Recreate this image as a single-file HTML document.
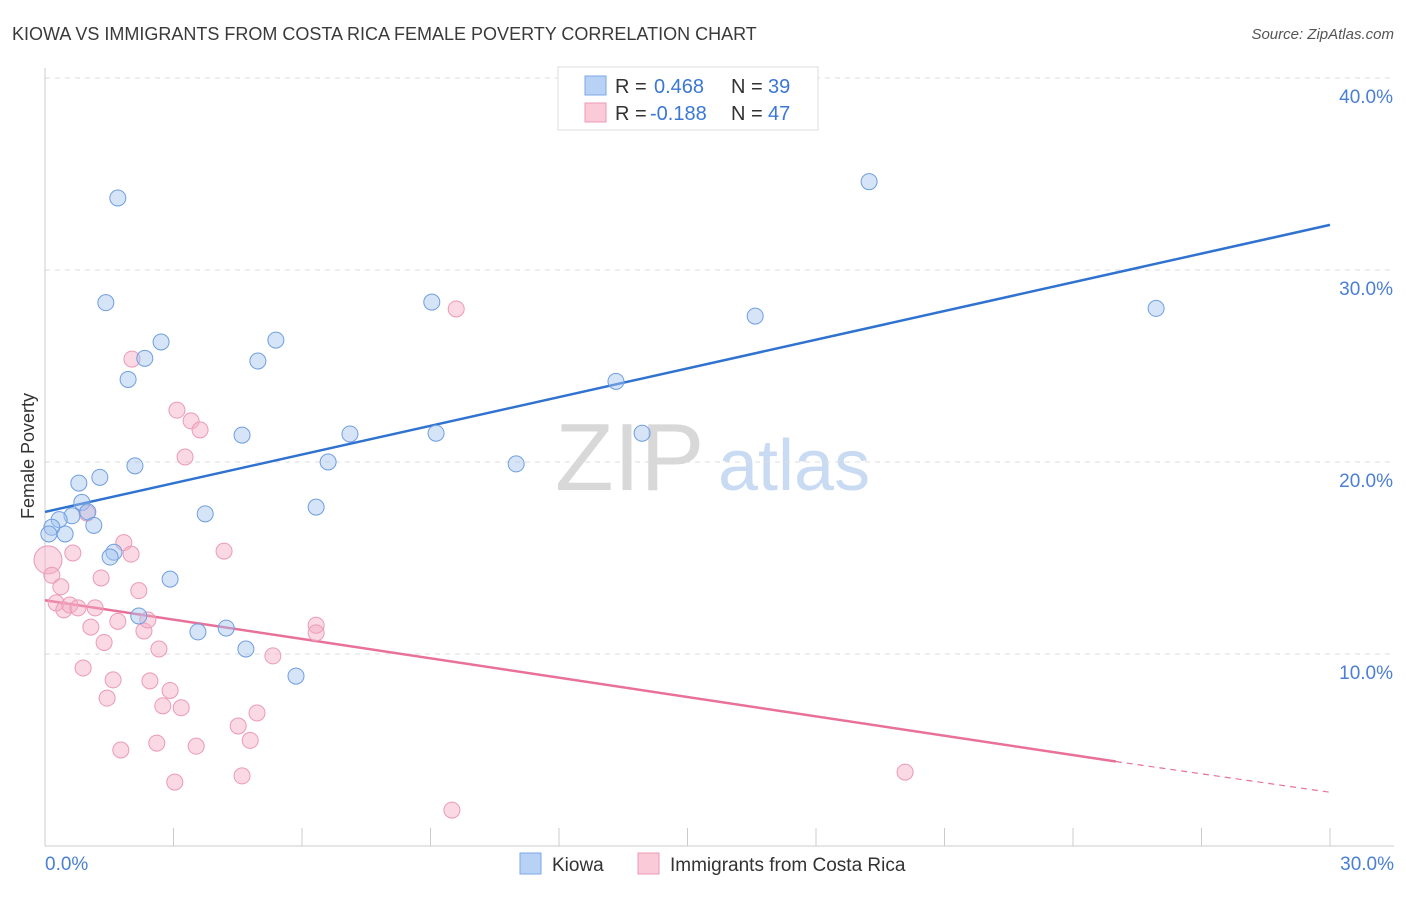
<!DOCTYPE html>
<html><head><meta charset="utf-8"><style>
body{margin:0;background:#fff;font-family:"Liberation Sans",sans-serif}
svg text{font-family:"Liberation Sans",sans-serif}
</style></head><body>
<svg id="chart" width="1406" height="892" xmlns="http://www.w3.org/2000/svg">
<text x="12" y="40" font-size="18" fill="#3a3a3a">KIOWA VS IMMIGRANTS FROM COSTA RICA FEMALE POVERTY CORRELATION CHART</text>
<text x="1394" y="39" font-size="15" fill="#555" text-anchor="end" font-style="italic">Source: ZipAtlas.com</text>
<g>
<text x="555" y="490" font-size="96" fill="#d8d8d8" font-family="Liberation Serif">ZIP</text>
<text x="718" y="490" font-size="72" fill="#c9daf3">atlas</text>
</g>
<g id="grid"></g>
<g id="axes"></g>
<text transform="translate(34,456) rotate(-90)" font-size="18" fill="#333" text-anchor="middle">Female Poverty</text>
<g id="lines"></g>
<g id="points"></g>
<g>
<rect x="558" y="67" width="260" height="63" fill="#fff" stroke="#ddd"/>
<rect x="585" y="76" width="21" height="19" fill="#b8d2f5" stroke="#7aa8e6"/>
<text x="615" y="93" font-size="20" fill="#333">R = </text><text x="654" y="93" font-size="20" fill="#3a78d4">0.468</text>
<text x="731" y="93" font-size="20" fill="#333">N = </text><text x="768" y="93" font-size="20" fill="#3a78d4">39</text>
<rect x="585" y="103" width="21" height="19" fill="#fbcad8" stroke="#ec9ab4"/>
<text x="615" y="120" font-size="20" fill="#333">R = </text><text x="650" y="120" font-size="20" fill="#3a78d4">-0.188</text>
<text x="731" y="120" font-size="20" fill="#333">N = </text><text x="768" y="120" font-size="20" fill="#3a78d4">47</text>
</g>
<g>
<rect x="520" y="853" width="21" height="21" fill="#b8d2f5" stroke="#7aa8e6"/>
<text x="552" y="871" font-size="19" fill="#333">Kiowa</text>
<rect x="638" y="853" width="21" height="21" fill="#fbcad8" stroke="#ec9ab4"/>
<text x="670" y="871" font-size="19" fill="#333">Immigrants from Costa Rica</text>
</g>
</svg>
<script>
const yTicks=[10,20,30,40];
const yTickLabels=["10.0%","20.0%","30.0%","40.0%"];
const xTicks=[0,3,6,9,12,15,18,21,24,27,30];
const kiowaX=[1.70,1.42,2.71,2.33,1.94,5.39,4.97,4.60,2.10,1.28,0.79,0.86,1.00,0.63,0.33,0.16,0.09,0.47,1.14,3.74,6.33,6.61,7.12,9.03,9.13,11.0,13.33,13.94,16.58,19.24,25.94,1.61,1.52,2.92,2.19,3.57,4.23,4.69,5.86];
const kiowaY=[33.75,28.3,26.25,25.4,24.3,26.35,25.26,21.4,19.8,19.2,18.9,17.9,17.4,17.2,17.0,16.6,16.25,16.25,16.7,17.3,17.65,20.0,21.46,28.33,21.5,19.9,24.2,21.5,27.6,34.6,28.0,15.3,15.05,13.9,11.98,11.15,11.35,10.26,8.85];
const costaX=[0.07,0.16,0.26,0.37,0.44,0.58,0.65,0.77,0.89,0.98,1.07,1.17,1.31,1.38,1.45,1.59,1.70,1.77,1.84,2.01,2.03,2.19,2.31,2.40,2.45,2.61,2.66,2.75,2.92,3.03,3.08,3.18,3.27,3.41,3.53,3.62,4.18,4.51,4.60,4.79,4.95,5.32,6.33,6.33,9.50,9.60,20.08];
const costaY=[14.9,14.1,12.66,13.5,12.3,12.55,15.26,12.4,9.27,17.34,11.4,12.4,13.96,10.6,7.7,8.65,11.7,5.0,15.8,15.2,25.36,13.3,11.2,11.77,8.6,5.36,10.26,7.3,8.1,3.33,22.7,7.2,20.26,22.14,5.2,21.67,15.36,6.25,3.65,5.5,6.93,9.9,11.5,11.1,1.87,27.97,3.85];
const kiowaTrend=[[0,17.4],[30,32.35]];
const costaTrend=[[0,12.8],[25,4.4],[30,2.8]];
const NS="http://www.w3.org/2000/svg";
const X=v=>45+v/30*1285, Y=v=>846-v*19.2;
function mk(tag,attrs,parent){const e=document.createElementNS(NS,tag);for(const k in attrs)e.setAttribute(k,attrs[k]);parent.appendChild(e);return e;}
const grid=document.getElementById('grid'),axes=document.getElementById('axes');
yTicks.forEach((t,i)=>{
 const l=mk('line',{x1:45,x2:1394,y1:Y(t),y2:Y(t),stroke:'#ddd','stroke-dasharray':'5,5'},grid);
 
 
 const tx=mk('text',{x:1393,y:Y(t)+25,'font-size':19,fill:'#4a7fd4','text-anchor':'end'},axes);
 tx.textContent=yTickLabels[i];
 
 
});
mk('line',{x1:45,x2:45,y1:68,y2:846,stroke:'#ccc'},axes);
mk('line',{x1:45,x2:1394,y1:846,y2:846,stroke:'#ccc'},axes);
xTicks.forEach(t=>{const l=mk('line',{x1:X(t),x2:X(t),y1:828,y2:846,stroke:'#ccc'},axes);
 
 });
let t0=mk('text',{x:45,y:870,'font-size':19,fill:'#4a7fd4'},axes);t0.textContent="0.0%";


let t1=mk('text',{x:1394,y:870,'font-size':19,fill:'#4a7fd4','text-anchor':'end'},axes);t1.textContent="30.0%";


const pts=document.getElementById('points');
costaX.forEach((x,i)=>{const c=mk('circle',{cx:X(x),cy:Y(costaY[i]),r:i===0?14:8,fill:'rgba(245,170,195,0.45)',stroke:'#eb9ab5','stroke-width':1},pts);
 
 });
kiowaX.forEach((x,i)=>{const c=mk('circle',{cx:X(x),cy:Y(kiowaY[i]),r:8,fill:'rgba(165,195,240,0.45)',stroke:'#6f9ee0','stroke-width':1},pts);
 
 });
const ln=document.getElementById('lines');
const bl=mk('line',{x1:X(kiowaTrend[0][0]),y1:Y(kiowaTrend[0][1]),x2:X(kiowaTrend[1][0]),y2:Y(kiowaTrend[1][1]),stroke:'#2f72d0','stroke-width':2.5},ln);


const pl=mk('line',{x1:X(costaTrend[0][0]),y1:Y(costaTrend[0][1]),x2:X(costaTrend[1][0]),y2:Y(costaTrend[1][1]),stroke:'#e8709a','stroke-width':2.5},ln);


const pd=mk('line',{x1:X(costaTrend[1][0]),y1:Y(costaTrend[1][1]),x2:X(costaTrend[2][0]),y2:Y(costaTrend[2][1]),stroke:'#e8709a','stroke-width':1.2,'stroke-dasharray':'6,5'},ln);


</script>
</body></html>
